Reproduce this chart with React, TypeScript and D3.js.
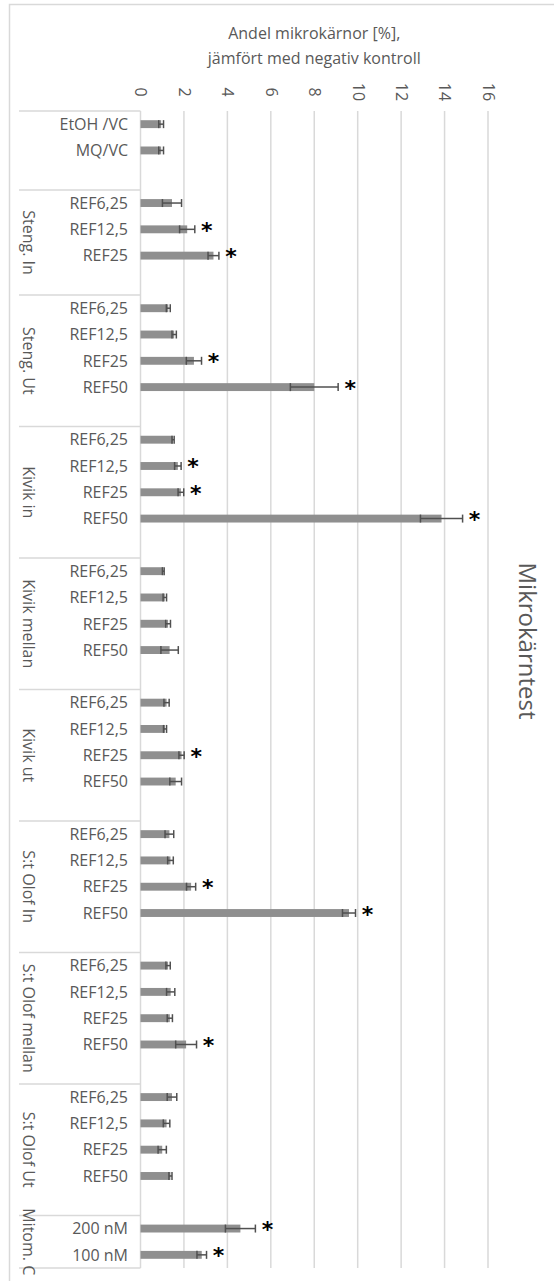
import React, { useEffect, useRef } from 'react';
import * as d3 from 'd3';

// category groups (outer level of the axis) and how many rows each one takes
const groups = ['', 'Steng. In', 'Steng. Ut', 'Kivik in', 'Kivik mellan', 'Kivik ut', 'S:t Olof In', 'S:t Olof mellan', 'S:t Olof Ut', 'Mitom. C'];
const groupSizes = [3, 4, 5, 5, 5, 5, 5, 5, 5, 2];

// inner level labels, '' = empty spacer row
const labels = [
    'EtOH /VC', 'MQ/VC', '',
    'REF6,25', 'REF12,5', 'REF25', '',
    'REF6,25', 'REF12,5', 'REF25', 'REF50', '',
    'REF6,25', 'REF12,5', 'REF25', 'REF50', '',
    'REF6,25', 'REF12,5', 'REF25', 'REF50', '',
    'REF6,25', 'REF12,5', 'REF25', 'REF50', '',
    'REF6,25', 'REF12,5', 'REF25', 'REF50', '',
    'REF6,25', 'REF12,5', 'REF25', 'REF50', '',
    'REF6,25', 'REF12,5', 'REF25', 'REF50', '',
    '200 nM', '100 nM',
];

const means = [
    0.95, 0.95, null,
    1.45, 2.15, 3.36, null,
    1.28, 1.55, 2.46, 8.0, null,
    1.5, 1.72, 1.86, 13.86, null,
    1.05, 1.12, 1.27, 1.34, null,
    1.2, 1.13, 1.89, 1.62, null,
    1.33, 1.38, 2.33, 9.6, null,
    1.27, 1.39, 1.35, 2.1, null,
    1.45, 1.2, 1.0, 1.38, null,
    4.6, 2.82,
];

const errors = [
    0.11, 0.11, null,
    0.44, 0.35, 0.25, null,
    0.09, 0.1, 0.35, 1.1, null,
    0.05, 0.15, 0.13, 0.97, null,
    0.04, 0.08, 0.11, 0.4, null,
    0.12, 0.07, 0.12, 0.27, null,
    0.2, 0.13, 0.21, 0.3, null,
    0.1, 0.19, 0.12, 0.48, null,
    0.22, 0.15, 0.19, 0.07, null,
    0.69, 0.22,
];

// significant difference marked with *
const stars = [
    0, 0, 0,
    0, 1, 1, 0,
    0, 0, 1, 1, 0,
    0, 1, 1, 1, 0,
    0, 0, 0, 0, 0,
    0, 0, 1, 0, 0,
    0, 0, 1, 1, 0,
    0, 0, 0, 1, 0,
    0, 0, 0, 0, 0,
    1, 1,
];

const xTicks = [0, 2, 4, 6, 8, 10, 12, 14, 16];

const FONT = "'Open Sans', 'Noto Sans', sans-serif";
const TEXT = '#595959';
const GRID = '#d9d9d9';

const App = () => {
    const ref = useRef<SVGSVGElement>(null);

    useEffect(() => {
        const W = 554, H = 1281;
        const plot = { left: 140.5, right: 488, top: 111, bottom: 1268 };

        const svg = d3.select(ref.current);
        svg.selectAll('*').remove();

        svg.append('rect').attr('width', W).attr('height', H).attr('fill', '#fff');
        // chart area border (only top/left visible in the crop)
        svg.append('rect')
            .attr('x', 9.5).attr('y', 4.5).attr('width', W + 20).attr('height', H + 20)
            .attr('fill', 'none').attr('stroke', GRID).attr('stroke-width', 1.5);

        const x = d3.scaleLinear().domain([0, 16]).range([plot.left, plot.right]);
        const y = d3.scaleBand<number>().domain(d3.range(labels.length)).range([plot.top, plot.bottom]);
        const barH = y.bandwidth() * 0.3;

        // gridlines
        svg.append('g').selectAll('line')
            .data(xTicks.slice(1))
            .enter().append('line')
            .attr('x1', d => x(d)).attr('x2', d => x(d))
            .attr('y1', plot.top).attr('y2', plot.bottom)
            .attr('stroke', GRID).attr('stroke-width', 1.5);

        // value axis on top, labels turned 90deg
        const axis = svg.append('g')
            .attr('transform', `translate(0,92)`)
            .call(d3.axisTop(x).tickValues(xTicks).tickSize(0).tickFormat(d3.format('d')));
        axis.select('.domain').remove();
        axis.selectAll('text')
            .attr('transform', 'rotate(90)')
            .attr('x', 0).attr('y', 0).attr('dy', '0.35em')
            .style('text-anchor', 'middle')
            .style('font-family', FONT).style('font-size', '16px').style('fill', TEXT);

        // axis title
        const title = svg.append('text')
            .attr('x', (plot.left + plot.right) / 2)
            .attr('text-anchor', 'middle')
            .style('font-family', FONT).style('font-size', '16px').style('fill', TEXT);
        title.append('tspan').attr('x', (plot.left + plot.right) / 2).attr('y', 39).text('Andel mikrokärnor [%],');
        title.append('tspan').attr('x', (plot.left + plot.right) / 2).attr('y', 64).text('jämfört med negativ kontroll');

        // category axis line
        svg.append('line')
            .attr('x1', plot.left).attr('x2', plot.left)
            .attr('y1', plot.top).attr('y2', plot.bottom)
            .attr('stroke', GRID).attr('stroke-width', 1.5);

        // group separators and group labels
        const starts = d3.cumsum([0, ...groupSizes]);
        svg.append('g').selectAll('line')
            .data(Array.from(starts))
            .enter().append('line')
            .attr('x1', 19).attr('x2', plot.left)
            .attr('y1', (d: number) => plot.top + d * y.step())
            .attr('y2', (d: number) => plot.top + d * y.step())
            .attr('stroke', GRID).attr('stroke-width', 1.5);

        svg.append('g').selectAll('text')
            .data(groups)
            .enter().append('text')
            .attr('transform', (d, i) => {
                const cy = plot.top + (starts[i] + groupSizes[i] / 2) * y.step();
                return `translate(29,${cy}) rotate(90)`;
            })
            .attr('text-anchor', 'middle')
            .attr('dy', '0.35em')
            .style('font-family', FONT).style('font-size', '16px').style('fill', TEXT)
            .text(d => d);

        // inner labels
        svg.append('g').selectAll('text')
            .data(labels)
            .enter().append('text')
            .attr('x', 128)
            .attr('y', (d, i) => y(i)! + y.bandwidth() / 2)
            .attr('dy', '0.36em')
            .attr('text-anchor', 'end')
            .style('font-family', FONT).style('font-size', '16px').style('fill', TEXT)
            .text(d => d);

        const rows = means.map((m, i) => ({ i, m, e: errors[i], s: stars[i] })).filter(r => r.m !== null);

        // bars
        svg.append('g').selectAll('rect')
            .data(rows)
            .enter().append('rect')
            .attr('x', x(0))
            .attr('y', d => y(d.i)! + y.bandwidth() / 2 - barH / 2)
            .attr('width', d => x(d.m as number) - x(0))
            .attr('height', barH)
            .attr('fill', '#8f8f8f');

        // error bars
        const eb = svg.append('g').selectAll('g')
            .data(rows)
            .enter().append('g')
            .attr('stroke', '#505050').attr('stroke-width', 1.5);
        const cy = (d: any) => y(d.i)! + y.bandwidth() / 2;
        eb.append('line')
            .attr('x1', d => x((d.m as number) - (d.e as number)))
            .attr('x2', d => x((d.m as number) + (d.e as number)))
            .attr('y1', cy).attr('y2', cy);
        eb.append('line')
            .attr('x1', d => x((d.m as number) - (d.e as number)))
            .attr('x2', d => x((d.m as number) - (d.e as number)))
            .attr('y1', d => cy(d) - 4).attr('y2', d => cy(d) + 4);
        eb.append('line')
            .attr('x1', d => x((d.m as number) + (d.e as number)))
            .attr('x2', d => x((d.m as number) + (d.e as number)))
            .attr('y1', d => cy(d) - 4).attr('y2', d => cy(d) + 4);

        // significance stars
        svg.append('g').selectAll('text')
            .data(rows.filter(r => r.s))
            .enter().append('text')
            .attr('x', d => x((d.m as number) + (d.e as number)) + 12)
            .attr('y', d => cy(d) + 8.5)
            .attr('text-anchor', 'middle')
            .style('font-family', "'DejaVu Sans', sans-serif").style('font-weight', 'bold').style('font-size', '22px').style('fill', '#000')
            .text('*');

        // chart title, rotated
        svg.append('text')
            .attr('transform', 'translate(527,641) rotate(90)')
            .attr('text-anchor', 'middle')
            .attr('dy', '0.35em')
            .style('font-family', FONT).style('font-size', '24px').style('fill', TEXT)
            .text('Mikrokärntest');
    }, []);

    return <svg ref={ref} width={554} height={1281} style={{ position: 'absolute', left: 0, top: 0, display: 'block' }}></svg>;
};

export default App;
